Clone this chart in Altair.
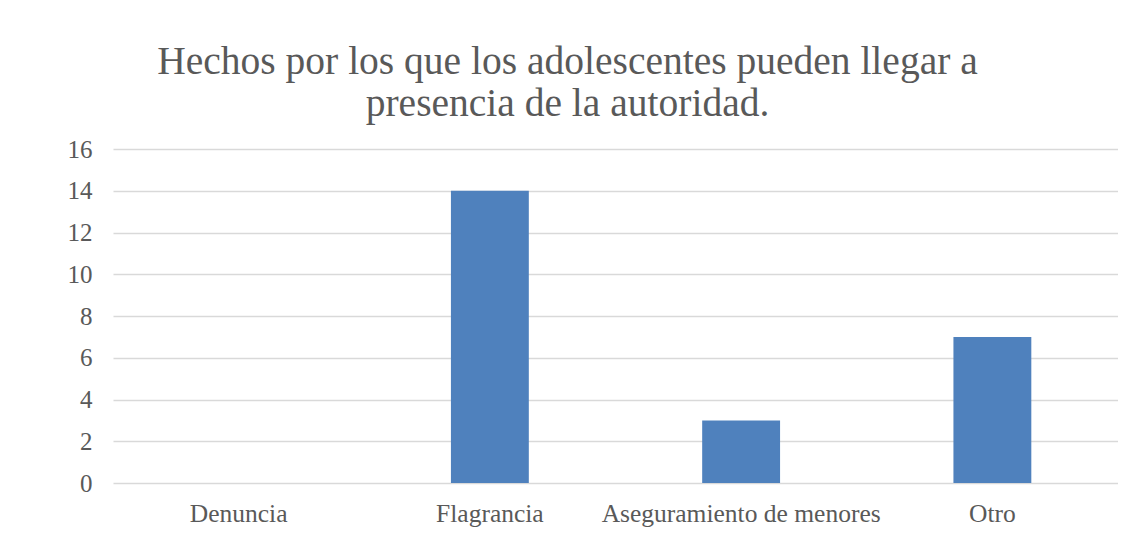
import altair as alt
import pandas as pd

categories = ["Denuncia", "Flagrancia", "Aseguramiento de menores", "Otro"]
values = [0, 14, 3, 7]
title_lines = ["Hechos por los que los adolescentes pueden llegar a", "presencia de la autoridad."]

df = pd.DataFrame({"cat": categories, "val": values})

FONT = "Liberation Serif"
GRAY = "#595959"

bars = alt.Chart(df).mark_bar(color="#4f81bd").encode(
    x=alt.X("cat:N", sort=categories, title=None,
            scale=alt.Scale(paddingInner=0.69, paddingOuter=0.345),
            axis=alt.Axis(labelAngle=0, labelFont=FONT, labelFontSize=25.5, labelColor=GRAY,
                          labelPadding=18, labelLimit=500, ticks=False, domain=False, grid=False,
                          minExtent=50, maxExtent=50)),
    y=alt.Y("val:Q", title=None,
            scale=alt.Scale(domain=[0, 16], nice=False),
            axis=alt.Axis(values=list(range(0, 17, 2)), labelFont=FONT, labelFontSize=25,
                          labelColor=GRAY, labelPadding=21, ticks=False, domain=False,
                          grid=True, gridColor="#d9d9d9", gridWidth=1.5,
                          minExtent=100, maxExtent=100)),
)

chart = bars.properties(
    width=1005, height=334,
    padding={"left": 5, "top": 33, "right": 0, "bottom": 5},
    title=alt.TitleParams(text=title_lines, font=FONT, fontSize=39.5, fontWeight="normal",
                          color=GRAY, anchor="middle", frame="group", offset=13,
                          lineHeight=42, dx=-48),
).configure_view(stroke=None)

chart.save("out.html", embed_options={"renderer": "svg", "actions": False})
